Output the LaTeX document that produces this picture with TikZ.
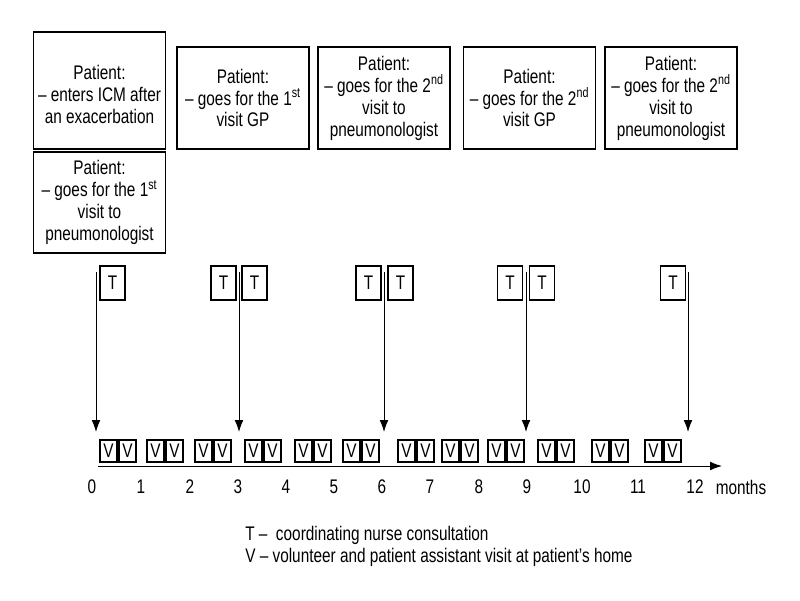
\documentclass[tikz,border=0pt]{standalone}
\usepackage{fontspec}
\setmainfont{Liberation Sans}[FakeStretch=0.78]
\usetikzlibrary{arrows.meta}
\newcommand*{\mytextstyle}{\fontsize{14}{15.6}\selectfont}
\newcommand*{\nth}[1]{\textsuperscript{#1}}

\begin{document}
\begin{tikzpicture}[x=0.025cm, y=-0.025cm,
   pbox/.style = {draw, line width=0.8pt, align=center, inner sep=0pt,
                  minimum width=3.3cm, minimum height=2.55cm},
   tbox/.style = {draw, line width=0.8pt, inner sep=0pt,
                  minimum width=0.625cm, minimum height=0.85cm},
   vbox/.style = {draw, line width=0.8pt, inner sep=0pt,
                  minimum width=0.425cm, minimum height=0.55cm},
   tip/.style  = {line width=0.7pt, -{Latex[length=3mm, width=2.2mm]}},
   font = \mytextstyle]

   \useasboundingbox (0,0) rectangle (800,600);

   % patient boxes
   \node[pbox, minimum height=2.925cm] (p1) at (99.5,90.5)
      {\mbox{}\\Patient:\\-- enters ICM after\\an exacerbation};
   \node[pbox, minimum height=2.525cm] (p2) at (99.5,202.5)
      {Patient:\\-- goes for the 1\nth{st}\\visit to\\pneumonologist};
   \node[pbox] (p3) at (243,98)
      {Patient:\\-- goes for the 1\nth{st}\\visit GP};
   \node[pbox] (p4) at (384,98)
      {Patient:\\-- goes for the 2\nth{nd}\\visit to\\pneumonologist};
   \node[pbox] (p5) at (529.5,98)
      {Patient:\\-- goes for the 2\nth{nd}\\visit GP};
   \node[pbox] (p6) at (671,98)
      {Patient:\\-- goes for the 2\nth{nd}\\visit to\\pneumonologist};

   % nurse consultations
   \foreach \x [count=\i] in {112.5,223.5,254.5,368.5,400.5,510,542,673}
      \node[tbox] (t\i) at (\x,283) {T};

   % arrows down to the time line
   \foreach \x [count=\i] in {96,239,384,526,688}{
      \coordinate (s\i) at (\x,272);
      \coordinate (e\i) at (\x,432);
      \draw[tip] (s\i) -- (e\i);
   }

   % volunteer visits
   \foreach \x [count=\i] in {100,147,195,245,295,343,398,442,488,538,592,645}{
      \node[vbox] (va\i) at (\x+8.5,451) {V};
      \node[vbox] (vb\i) at (\x+27.5,451) {V};
   }

   % time line
   \coordinate (ax0) at (98,466);
   \coordinate (ax1) at (722,466);
   \draw[tip] (ax0) -- (ax1);
   \foreach \x [count=\i from 0] in {92,141,190,238,286,334,382,430,479,527,582,638,695}
      \node (m\i) at (\x,487) {\i};
   \node (months) at (741,487) {months};

   \node[anchor=west, align=left, inner sep=0pt] (legend) at (245,546)
      {T --\ \ coordinating nurse consultation\\
       V -- volunteer and patient assistant visit at patient’s home};

\end{tikzpicture}
\end{document}
